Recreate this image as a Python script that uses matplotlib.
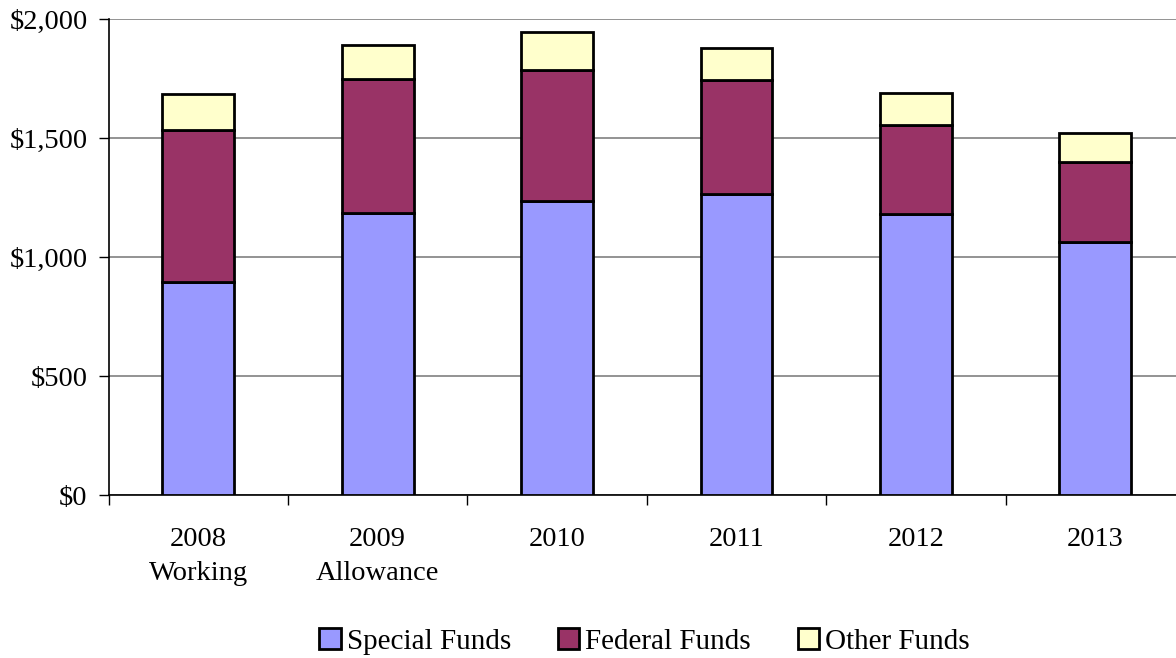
import numpy as np
import matplotlib.pyplot as plt
from matplotlib.ticker import FuncFormatter, MultipleLocator

plt.rcParams['font.family'] = ['Liberation Serif', 'DejaVu Serif']

years = ['2008\nWorking', '2009\nAllowance', '2010', '2011', '2012', '2013']
special = [895, 1186, 1234, 1263, 1181, 1064]
federal = [637, 562, 552, 481, 372, 337]
other = [153, 143, 159, 135, 135, 119]

fig = plt.figure(figsize=(11.76, 6.58), dpi=100)
ax = fig.add_axes([0.0923, 0.2477, 0.9154, 0.7234])

x = np.arange(len(years)) + 0.5
w = 0.4
bottom2 = np.array(special)
bottom3 = bottom2 + np.array(federal)
kw = dict(width=w, edgecolor='black', linewidth=2, zorder=3)
ax.bar(x, special, color='#9999FF', label='Special Funds', **kw)
ax.bar(x, federal, bottom=bottom2, color='#993366', label='Federal Funds', **kw)
ax.bar(x, other, bottom=bottom3, color='#FFFFCC', label='Other Funds', **kw)

ax.set_xlim(0, len(years))
ax.set_ylim(0, 2000)
ax.yaxis.set_major_locator(MultipleLocator(500))
ax.yaxis.set_major_formatter(FuncFormatter(lambda v, p: '${:,.0f}'.format(v)))
ax.grid(axis='y', color='#808080', linewidth=1.2, zorder=0)

ax.set_xticks(x)
ax.set_xticklabels(years, linespacing=1.5)
ax.set_xticks(np.arange(len(years) + 1), minor=True)
ax.tick_params(axis='x', which='major', length=0, pad=23, labelsize=20.5)
ax.tick_params(axis='x', which='minor', length=7, width=1, direction='out')
ax.tick_params(axis='y', length=7, width=1, direction='out', labelsize=20.5, pad=8)

for s in ['top', 'right']:
    ax.spines[s].set_visible(False)
ax.spines['left'].set_linewidth(1.2)
ax.spines['bottom'].set_linewidth(1.2)

fig.legend(loc='lower center', bbox_to_anchor=(0.548, -0.035), ncol=3, frameon=False,
           fontsize=21, handlelength=0.75, handleheight=0.75, handletextpad=0.2,
           columnspacing=1.6)

fig.savefig('out.png', dpi=100)
